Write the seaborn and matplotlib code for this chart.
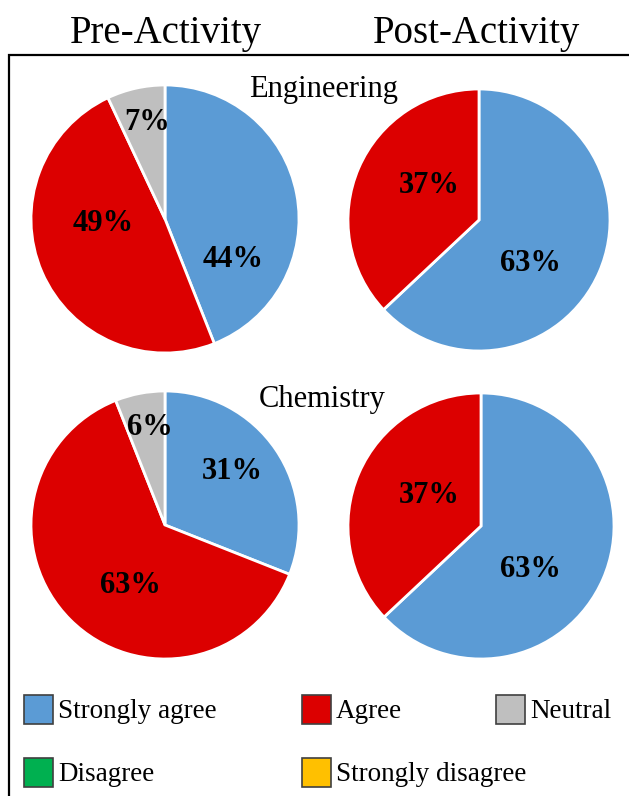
import matplotlib.pyplot as plt
import seaborn as sns
from matplotlib.patches import Rectangle

sns.set_theme(style="white")
plt.rcParams['font.family'] = ['Liberation Serif', 'DejaVu Serif']
plt.rcParams['text.color'] = 'black'

categories = ["Strongly agree", "Agree", "Neutral", "Disagree", "Strongly disagree"]
colors = ["#5B9BD5", "#DC0000", "#BFBFBF", "#00B050", "#FFC000"]

eng_pre = [44, 49, 7]
eng_post = [63, 37]
chem_pre = [31, 63, 6]
chem_post = [63, 37]

W, H = 629, 796
fig = plt.figure(figsize=(W / 100, H / 100), dpi=100)


def pie_at(cx, cy, r, values, label_pos):
    pad = 1.1
    ax = fig.add_axes([(cx - pad * r) / W, 1 - (cy + pad * r) / H, 2 * pad * r / W, 2 * pad * r / H])
    ax.pie(values, colors=colors[:len(values)], startangle=90, counterclock=False,
           wedgeprops=dict(edgecolor="white", linewidth=2))
    ax.set_xlim(-pad, pad)
    ax.set_ylim(-pad, pad)
    ax.set_aspect("equal")
    ax.axis("off")
    for v, (lx, ly) in zip(values, label_pos):
        ax.text(lx, ly - 0.02, f"{v}%", ha="center", va="center", fontsize=22, fontweight="bold", color="black")
    return ax


pie_at(165, 219, 134, eng_pre, [(0.51, -0.28), (-0.46, -0.01), (-0.13, 0.74)])
pie_at(479, 220, 131, eng_post, [(0.39, -0.31), (-0.38, 0.28)])
pie_at(165, 525, 134, chem_pre, [(0.50, 0.42), (-0.26, -0.43), (-0.11, 0.75)])
pie_at(481, 526, 133, chem_post, [(0.37, -0.31), (-0.39, 0.25)])

# frame box
fig.patches.append(Rectangle((9 / W, -0.05), 1.0, 1 - 55 / H + 0.05, transform=fig.transFigure,
                             fill=False, edgecolor="black", linewidth=1.6, zorder=0))

fig.text(166 / W, 1 - 34 / H, "Pre-Activity", ha="center", va="center", fontsize=28)
fig.text(476 / W, 1 - 34 / H, "Post-Activity", ha="center", va="center", fontsize=28)
fig.text(324 / W, 1 - 90 / H, "Engineering", ha="center", va="center", fontsize=22)
fig.text(322 / W, 1 - 400 / H, "Chemistry", ha="center", va="center", fontsize=22)

# legend
legend_pos = [(24, 709.5), (302, 709.5), (496, 709.5), (24, 772.5), (302, 772.5)]
for name, col, (lx, ly) in zip(categories, colors, legend_pos):
    fig.patches.append(Rectangle((lx / W, 1 - (ly + 14.5) / H), 29 / W, 29 / H, transform=fig.transFigure,
                                 facecolor=col, edgecolor="#404040", linewidth=1.2))
    fig.text((lx + 34) / W, 1 - (ly + 2) / H, name, ha="left", va="center", fontsize=19.5)

fig.savefig("out.png", dpi=100, facecolor="white")
